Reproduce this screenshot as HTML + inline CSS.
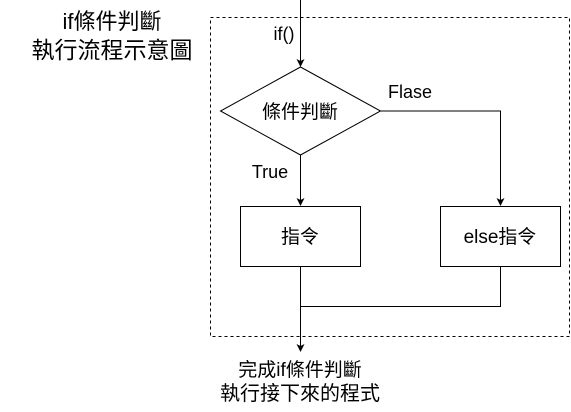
<!DOCTYPE html>
<html><head><meta charset="utf-8"><style>
html,body{margin:0;padding:0;background:#fff;}
svg text{font-family:"Liberation Sans","Noto Sans CJK TC",sans-serif;fill:#000;}
</style></head><body>
<svg width="571" height="407" viewBox="0 0 571 407" xmlns="http://www.w3.org/2000/svg">
<defs><marker id="a" markerWidth="8" markerHeight="8" refX="7" refY="4" orient="auto" markerUnits="userSpaceOnUse"><path d="M0,0 L8,4 L0,8 L2,4 Z" fill="#000"/></marker></defs>
<rect x="210.5" y="17.5" width="359" height="319" fill="none" stroke="#000" stroke-dasharray="3,3"/>
<text x="112" y="29" font-size="22" text-anchor="middle">if條件判斷</text>
<text x="112" y="58" font-size="23" text-anchor="middle">執行流程示意圖</text>
<line x1="300.5" y1="0" x2="300.5" y2="66" stroke="#000" marker-end="url(#a)"/>
<text x="284" y="40" font-size="18" text-anchor="middle">if()</text>
<polygon points="300.5,67 380.5,111 300.5,155 220.5,111" fill="#fff" stroke="#000"/>
<text x="300" y="118" font-size="19" text-anchor="middle">條件判斷</text>
<line x1="300.5" y1="155" x2="300.5" y2="205" stroke="#000" marker-end="url(#a)"/>
<text x="270" y="178" font-size="18" text-anchor="middle">True</text>
<polyline points="380.5,111 500.5,111 500.5,205" fill="none" stroke="#000" marker-end="url(#a)"/>
<text x="410" y="98" font-size="18" text-anchor="middle">Flase</text>
<rect x="240.5" y="206.5" width="120" height="60" fill="#fff" stroke="#000"/>
<text x="300" y="243" font-size="19" text-anchor="middle">指令</text>
<rect x="440.5" y="206.5" width="120" height="60" fill="#fff" stroke="#000"/>
<text x="500" y="243" font-size="19" text-anchor="middle">else指令</text>
<polyline points="300.5,266 300.5,306.5 500.5,306.5 500.5,266" fill="none" stroke="#000"/>
<line x1="300.5" y1="306" x2="300.5" y2="351" stroke="#000" marker-end="url(#a)"/>
<text x="300" y="376" font-size="19" text-anchor="middle">完成if條件判斷</text>
<text x="300" y="400" font-size="20" text-anchor="middle">執行接下來的程式</text>
</svg>
</body></html>
